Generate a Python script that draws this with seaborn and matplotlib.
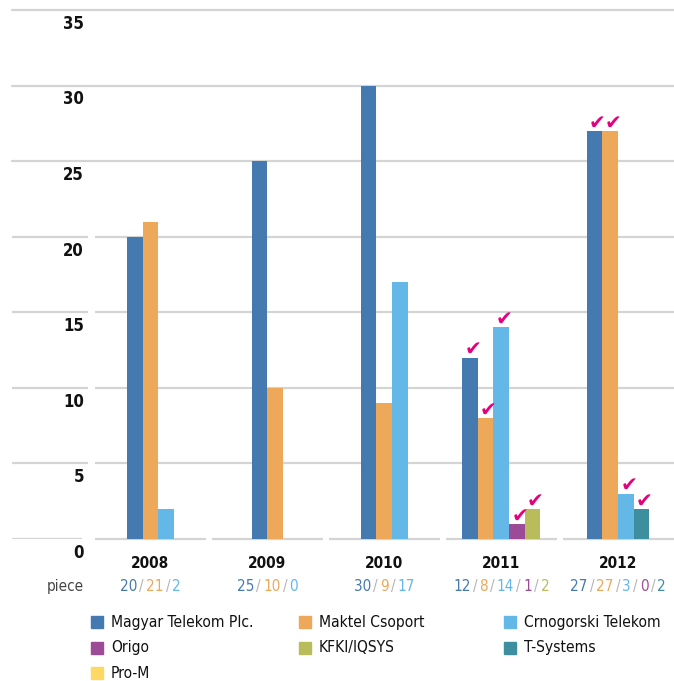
import numpy as np
import pandas as pd
import seaborn as sns
import matplotlib.pyplot as plt
from matplotlib import font_manager as fm
from matplotlib.patches import Rectangle
from matplotlib.offsetbox import TextArea, HPacker, AnnotationBbox

# data (None = company not reported that year)
years = ["2008", "2009", "2010", "2011", "2012"]
companies = ["Magyar Telekom Plc.", "Maktel Csoport", "Crnogorski Telekom",
             "Origo", "KFKI/IQSYS", "T-Systems", "Pro-M"]
magyar = [20, 25, 30, 12, 27]
maktel = [21, 10, 9, 8, 27]
crnogorski = [2, 0, 17, 14, 3]
origo = [None, None, None, 1, 0]
kfki = [None, None, None, 2, None]
tsystems = [None, None, None, None, 2]
prom = [None, None, None, None, None]
checked_years = ["2011", "2012"]
y_ticks = [0, 5, 10, 15, 20, 25, 30, 35]

colors = ["#447AB0", "#EDA85A", "#63B8E8", "#9C4B97", "#B8BC5B", "#3D8FA0", "#FDD964"]
magenta = "#E5007D"
grid_c = "#D4D4D4"

# pick a condensed face if one is installed
installed = {f.name for f in fm.fontManager.ttflist}
cond_dejavu = any(f.name == "DejaVu Sans" and "condensed" in str(f.stretch) for f in fm.fontManager.ttflist)
stretch = "normal"
if "Liberation Sans Narrow" in installed:
    narrow = "Liberation Sans Narrow"
elif "DejaVu Sans Condensed" in installed:
    narrow = "DejaVu Sans Condensed"
elif cond_dejavu:
    narrow = "DejaVu Sans"
    stretch = "condensed"
else:
    narrow = "Liberation Sans"
fs = 1.0 if narrow != "Liberation Sans" else 0.88

series = [magyar, maktel, crnogorski, origo, kfki, tsystems, prom]
bar_w = 0.134

# long table, bars with value > 0 packed side by side and centred on the year
rows = []
for i, yr in enumerate(years):
    present = [(c, s[i]) for c, s in zip(companies, series) if s[i] is not None and s[i] > 0]
    n = len(present)
    for k, (c, v) in enumerate(present):
        rows.append({"year": yr, "company": c, "value": v,
                     "pos": i + (k - (n - 1) / 2) * bar_w})
df = pd.DataFrame(rows)

sns.set_theme(style="white")
plt.rcParams["font.family"] = [narrow, "DejaVu Sans"]
plt.rcParams["font.stretch"] = stretch

fig = plt.figure(figsize=(6.74, 6.81), dpi=100)
ax = fig.add_axes([12 / 674, 142 / 681, 662 / 674, 529 / 681])

sns.barplot(data=df, x="pos", y="value", hue="company", hue_order=companies,
            palette=colors, native_scale=True, dodge=False, width=1.0,
            saturation=1, errorbar=None, legend=False, linewidth=0, ax=ax)

x0 = (12 - 150.5) / 116.9
x1 = (674 - 150.5) / 116.9
ax.set_xlim(x0, x1)
ax.set_ylim(0, 35)
ax.set_xticks([])
ax.set_yticks([])
ax.set_xlabel("")
ax.set_ylabel("")
for sp in ax.spines.values():
    sp.set_visible(False)

# grid lines (the lower ones break just left of the plot) and a segmented baseline
gap_a = (88 - 150.5) / 116.9
gap_b = (95 - 150.5) / 116.9
for t in y_ticks[1:]:
    if t <= 20:
        ax.hlines(t, x0, gap_a, color=grid_c, lw=1.6, zorder=0)
        ax.hlines(t, gap_b, x1, color=grid_c, lw=1.6, zorder=0)
    else:
        ax.axhline(t, color=grid_c, lw=1.6, zorder=0, clip_on=False)
ax.hlines(0, x0, (82 - 150.5) / 116.9, color=grid_c, lw=1.6, zorder=0)
for i in range(len(years)):
    ax.hlines(0, i - 0.475, i + 0.475, color=grid_c, lw=1.6, zorder=0, clip_on=False)

# y labels sit under their grid lines
lab_x = (84 - 150.5) / 116.9
for t in y_ticks:
    ax.annotate(str(t), xy=(lab_x, t), xytext=(0, -3.5), textcoords="offset points",
                ha="right", va="top", fontsize=12 * fs, fontweight="bold", color="#111111")

# check marks above the bars of the flagged years
for _, r in df[df["year"].isin(checked_years)].iterrows():
    ax.text(r["pos"] + 0.025, r["value"] - 0.1, "\u2714", ha="center", va="bottom",
            fontsize=14.5, color=magenta, family="DejaVu Sans", stretch="normal")

# year labels and the coloured value strings
for i, yr in enumerate(years):
    ax.annotate(yr, xy=(i, 0), xytext=(0, -18), textcoords="offset points",
                ha="center", va="center", fontsize=11 * fs, fontweight="bold",
                color="#111111", annotation_clip=False)
    parts = []
    for j, s in enumerate(series):
        if s[i] is None:
            continue
        if parts:
            parts.append(TextArea("/", textprops=dict(color="#B5B5B5", fontsize=11 * fs)))
        parts.append(TextArea(str(s[i]), textprops=dict(color=colors[j], fontsize=11 * fs)))
    box = HPacker(children=parts, align="baseline", pad=0, sep=1.5)
    ab = AnnotationBbox(box, (i, 0), xybox=(0, -34), boxcoords="offset points",
                        frameon=False, box_alignment=(0.5, 0.5), annotation_clip=False)
    ax.add_artist(ab)
ax.annotate("piece", xy=(lab_x, 0), xytext=(0, -34), textcoords="offset points",
            ha="right", va="center", fontsize=11 * fs, color="#444444", annotation_clip=False)

# legend, three columns filled row by row
col_x = [91, 299, 504]
for k, c in enumerate(companies):
    row, col = divmod(k, 3)
    px = col_x[col]
    py = 681 - (622 + row * 25.5)
    fig.patches.append(Rectangle((px / 674, (py - 6) / 681), 12 / 674, 12 / 681,
                                 transform=fig.transFigure, color=colors[k]))
    fig.text((px + 20) / 674, py / 681, c, ha="left", va="center",
             fontsize=11.2 * fs, color="#111111")

fig.savefig("out.png", dpi=100)
